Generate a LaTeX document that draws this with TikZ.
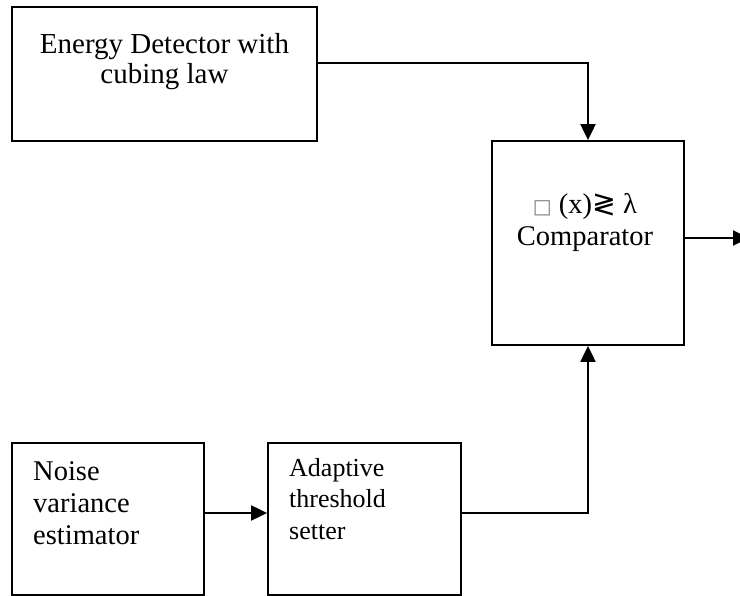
\documentclass[tikz,border=0pt]{standalone}
\usepackage{fontspec}
\setmainfont{Liberation Serif}
\newfontfamily\symfont{DejaVu Sans}
\usetikzlibrary{arrows.meta}
\begin{document}
\begin{tikzpicture}[x=1pt,y=-1pt,
  blk/.style={draw, line width=1.8pt, inner sep=0pt},
  wire/.style={line width=2pt},
  arr/.style={wire, -{Triangle[length=16pt,width=15pt]}},
  lbl/.style={inner sep=0pt, font=\fontsize{28.5}{32}\selectfont}]
\useasboundingbox (0,0) rectangle (740,596);
\clip (0,0) rectangle (740,596);

% blocks
\node[blk, minimum width=305pt, minimum height=134pt] (det) at (164.5,74) {};
\node[blk, minimum width=192pt, minimum height=204pt] (cmp) at (588,243) {};
\node[blk, minimum width=192pt, minimum height=152pt] (nve) at (108,519) {};
\node[blk, minimum width=193pt, minimum height=152pt] (ats) at (364.5,519) {};

% labels (base anchor sits on the last line)
\node[lbl, align=center, anchor=base, font=\fontsize{29}{30}\selectfont] (detlbl) at (164.5,84)
  {Energy Detector with\\cubing law};
\node[lbl, align=center, anchor=base, font=\fontsize{28.5}{32}\selectfont] (cmplbl) at (585,246)
  {{\color{gray}\symfont\fontsize{20}{20}\selectfont □} (x){\symfont ≷} λ\\Comparator};
\node[lbl, align=left, anchor=base west] (nvelbl) at (33,544)
  {Noise\\variance\\estimator};
\node[lbl, align=left, anchor=base west, font=\fontsize{26}{31.5}\selectfont] (atslbl) at (289,539)
  {Adaptive\\threshold\\setter};

% connectors
\coordinate (out) at (749,238);
\draw[arr] ([yshift=11pt]det.east) -| (cmp.north);
\draw[arr] ([yshift=6pt]nve.east) -- ([yshift=6pt]ats.west);
\draw[arr] ([yshift=6pt]ats.east) -| (cmp.south);
\draw[arr] ([yshift=5pt]cmp.east) -- (out);
\end{tikzpicture}
\end{document}
